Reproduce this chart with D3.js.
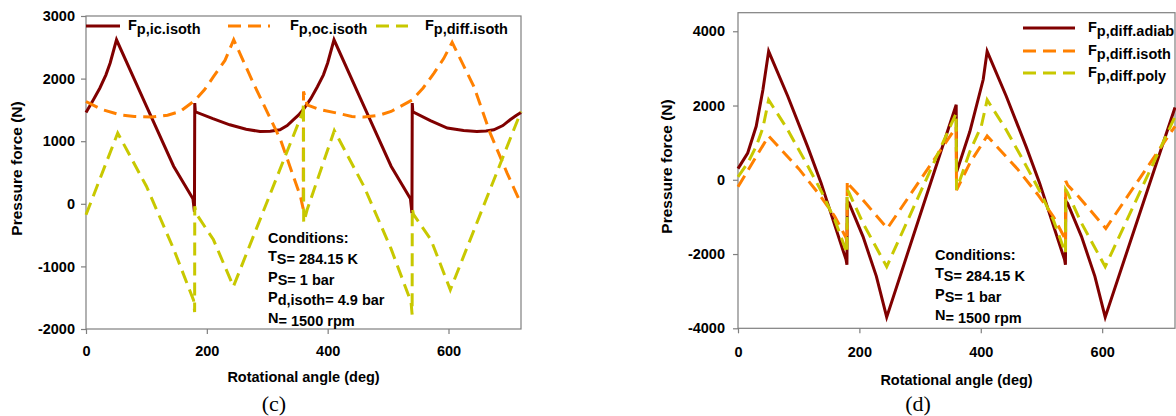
<!DOCTYPE html>
<html>
<head>
<meta charset="utf-8">
<script src="https://cdn.jsdelivr.net/npm/d3@7"></script>
<style>
  body { margin: 0; background: #fff; }
  text { font-family: Arial, "Liberation Sans", sans-serif; }
</style>
</head>
<body>
<script>
// ---------- data (angle in deg, force in N) ----------
const angleTicks = [0, 200, 400, 600];
const forceTicksC = [-2000, -1000, 0, 1000, 2000, 3000];
const forceTicksD = [-4000, -2000, 0, 2000, 4000];

// panel (c)
const icIsoth = [
  [0, 1458], [12, 1660], [23, 1850], [33, 2060], [40, 2250], [50.5, 2620], [100, 1560], [145, 600], [177, 80],
  [179.5, -130], [180, 1610], [181, 1470], [210, 1360], [238, 1262], [265, 1190], [288, 1155], [305, 1160],
  [321, 1182], [333, 1250], [343, 1342], [352, 1420], [360, 1510], [372, 1680], [383, 1870], [393, 2060],
  [400, 2250], [410.5, 2620], [460, 1560], [505, 600], [537, 80], [539.5, -150], [540, 1610], [541, 1470],
  [570, 1330], [598, 1210], [625, 1170], [647, 1155], [662, 1162], [675, 1182], [690, 1250], [702, 1342],
  [712, 1410], [720, 1460]
];
const ocIsoth = [
  [0, 1634], [25, 1510], [56, 1422], [80, 1395], [109, 1385], [135, 1415], [156, 1475], [180, 1650], [196, 1820],
  [211, 2030], [230, 2290], [244.5, 2620], [277, 1928], [322, 1022], [355, 117], [359.5, -80], [360, 1795],
  [366, 1580], [385, 1510], [415, 1450], [440, 1395], [460, 1385], [485, 1415], [505, 1475], [540, 1660],
  [558, 1850], [576, 2088], [592, 2320], [606, 2580], [642, 1874], [669, 1129], [697, 490], [720, 0]
];
const diffIsothC = [
  [0, -176], [52.5, 1130], [100, 280], [145, -720], [178, -1540], [179.8, -1730], [180, -40],
  [182, -150], [211, -575], [244, -1321], [359, 1470], [360, 1600], [360.3, -300], [366, -96],
  [411, 1170], [460, 280], [505, -720], [538, -1570], [539.8, -1770], [540, -70], [542, -170],
  [571, -575], [603, -1374], [720, 1474]
];

// panel (d)
const diffAdiab = [
  [0, 300], [16, 720], [30, 1440], [41, 2420], [50.5, 3460], [82, 2250], [115, 880], [137, -90],
  [157, -1100], [178, -2150], [179.5, -2290], [180, -570], [183, -630], [206, -1530], [228, -2600],
  [245, -3700], [359.5, 2020], [360, 200], [382, 1300], [404, 2700], [410.5, 3460], [442, 2250],
  [475, 880], [497, -90], [517, -1100], [538, -2150], [539.5, -2290], [540, -570], [543, -630],
  [566, -1530], [588, -2600], [605, -3700], [720, 1950]
];
const diffIsothD = [
  [0, -190], [50.5, 1180], [100, 300], [135, -420], [160, -1000], [178, -1560], [179.6, -1700],
  [180, -30], [183, -140], [201, -450], [246, -1310], [359.5, 1420], [360, -280], [382, 450],
  [410.5, 1180], [460, 300], [495, -420], [520, -1000], [538, -1560], [539.6, -1700], [540, -30],
  [543, -140], [561, -450], [606, -1310], [720, 1440]
];
const diffPoly = [
  [0, 80], [16, 450], [30, 900], [41, 1400], [50.5, 2150], [80, 1400], [110, 520], [137, -300],
  [160, -1100], [179.5, -1980], [180, -270], [183, -350], [206, -1170], [245, -2340], [359.5, 1790],
  [360, -270], [382, 760], [401, 1450], [410.5, 2150], [440, 1400], [470, 520], [497, -300],
  [520, -1100], [539.5, -1980], [540, -270], [543, -350], [566, -1170], [605, -2340], [720, 1700]
];

const legendC = [['F', 'p,ic.isoth'], ['F', 'p,oc.isoth'], ['F', 'p,diff.isoth']];
const legendD = [['F', 'p,diff.adiab'], ['F', 'p,diff.isoth'], ['F', 'p,diff.poly']];
const conditionsC = [['Conditions:', ''], ['T', 'S= 284.15 K'], ['P', 'S= 1 bar'], ['P', 'd,isoth= 4.9 bar'], ['N', '= 1500 rpm']];
const conditionsD = [['Conditions:', ''], ['T', 'S= 284.15 K'], ['P', 'S= 1 bar'], ['N', '= 1500 rpm']];

// ---------- styles ----------
const RED = '#800000', ORANGE = '#ff8000', OLIVE = '#c8c800';
const GRID = '#7f7f7f';

const svg = d3.select('body').append('svg')
  .attr('width', 1176).attr('height', 416);

function boldText(sel, size) {
  return sel.style('font-weight', 'bold').style('font-size', size + 'px').style('fill', '#000');
}

function drawPanel(p) {
  const x = d3.scaleLinear().domain([0, 720]).range([p.left, p.right]);
  const y = d3.scaleLinear().domain(p.yDomain).range([p.bottom, p.top]);
  const g = svg.append('g');

  // frame
  g.append('rect')
    .attr('x', p.left).attr('y', p.top)
    .attr('width', p.right - p.left).attr('height', p.bottom - p.top)
    .attr('fill', 'none').attr('stroke', GRID).attr('stroke-width', 1.2);

  // axes (plain integers, hyphen minus like the original)
  const plain = d => String(d);
  const yAx = g.append('g').attr('transform', `translate(${p.left},0)`)
    .call(d3.axisLeft(y).tickValues(p.yTicks).tickFormat(plain).tickSize(5).tickSizeOuter(0).tickPadding(p.yPad));
  const xAx = g.append('g').attr('transform', `translate(0,${p.bottom})`)
    .call(d3.axisBottom(x).tickValues(angleTicks).tickFormat(plain).tickSize(5).tickSizeOuter(0).tickPadding(p.xPad));
  [yAx, xAx].forEach(a => {
    a.select('.domain').remove();
    a.selectAll('.tick line').attr('stroke', GRID).attr('stroke-width', 1.2);
    boldText(a.selectAll('.tick text'), 14.5).attr('font-family', null);
  });

  // titles
  boldText(g.append('text'), 15.5)
    .attr('transform', `translate(${p.yTitleX},${(p.top + p.bottom) / 2 - 4}) rotate(-90)`)
    .attr('text-anchor', 'middle').text('Pressure force (N)');
  boldText(g.append('text'), 14.5)
    .attr('x', (p.left + p.right) / 2).attr('y', p.xTitleY)
    .attr('text-anchor', 'middle').text('Rotational angle (deg)');
  g.append('text')
    .attr('x', p.tagX).attr('y', 411).attr('text-anchor', 'middle')
    .style('font-family', '"Liberation Serif", "Times New Roman", serif')
    .style('font-size', '22px').text(p.tag);

  // series
  const line = d3.line().x(d => x(d[0])).y(d => y(d[1]));
  p.series.forEach(s => {
    g.append('path').datum(s.data).attr('d', line)
      .attr('fill', 'none').attr('stroke', s.color).attr('stroke-width', 3)
      .attr('stroke-dasharray', s.dash);
  });

  // legend
  p.series.forEach((s, i) => {
    const L = p.legend[i];
    g.append('line').attr('x1', L.x1).attr('x2', L.x2).attr('y1', L.y).attr('y2', L.y)
      .attr('stroke', s.color).attr('stroke-width', 3.2).attr('stroke-dasharray', s.dash);
    const t = boldText(g.append('text'), 14.5).attr('x', L.tx).attr('y', L.y + 4);
    t.append('tspan').text(s.label[0]);
    t.append('tspan').attr('dy', 3.5).text(s.label[1]);
  });

  // conditions box
  p.notes.forEach((n, i) => {
    const t = boldText(g.append('text'), 14.5)
      .attr('x', p.noteX).attr('y', p.noteY + i * p.noteStep - (n[1] ? 3 : 0));
    t.append('tspan').text(n[0]);
    if (n[1]) t.append('tspan').attr('dy', 3).text(n[1]);
  });
}

drawPanel({
  left: 86, right: 521, top: 16, bottom: 329,
  yDomain: [-2000, 3000], yTicks: forceTicksC, yPad: 6, xPad: 12,
  yTitleX: 22, xTitleY: 382, tag: '(c)', tagX: 274,
  series: [
    { data: icIsoth, color: RED, dash: null, label: legendC[0] },
    { data: ocIsoth, color: ORANGE, dash: '13,7', label: legendC[1] },
    { data: diffIsothC, color: OLIVE, dash: '13,7', label: legendC[2] }
  ],
  legend: [
    { x1: 86, x2: 120, y: 26, tx: 128 },
    { x1: 228, x2: 270, y: 26, tx: 290 },
    { x1: 376, x2: 408, y: 26, tx: 425 }
  ],
  notes: conditionsC, noteX: 268, noteY: 243, noteStep: 20.8
});

drawPanel({
  left: 738, right: 1175, top: 12.7, bottom: 328.3,
  yDomain: [-4000, 4500], yTicks: forceTicksD, yPad: 8, xPad: 13,
  yTitleX: 672, xTitleY: 385, tag: '(d)', tagX: 918,
  series: [
    { data: diffAdiab, color: RED, dash: null, label: legendD[0] },
    { data: diffIsothD, color: ORANGE, dash: '13,7', label: legendD[1] },
    { data: diffPoly, color: OLIVE, dash: '13,7', label: legendD[2] }
  ],
  legend: [
    { x1: 1023, x2: 1075, y: 28, tx: 1088 },
    { x1: 1023, x2: 1075, y: 51, tx: 1088 },
    { x1: 1023, x2: 1075, y: 73, tx: 1088 }
  ],
  notes: conditionsD, noteX: 935, noteY: 260, noteStep: 21
});
</script>
</body>
</html>
